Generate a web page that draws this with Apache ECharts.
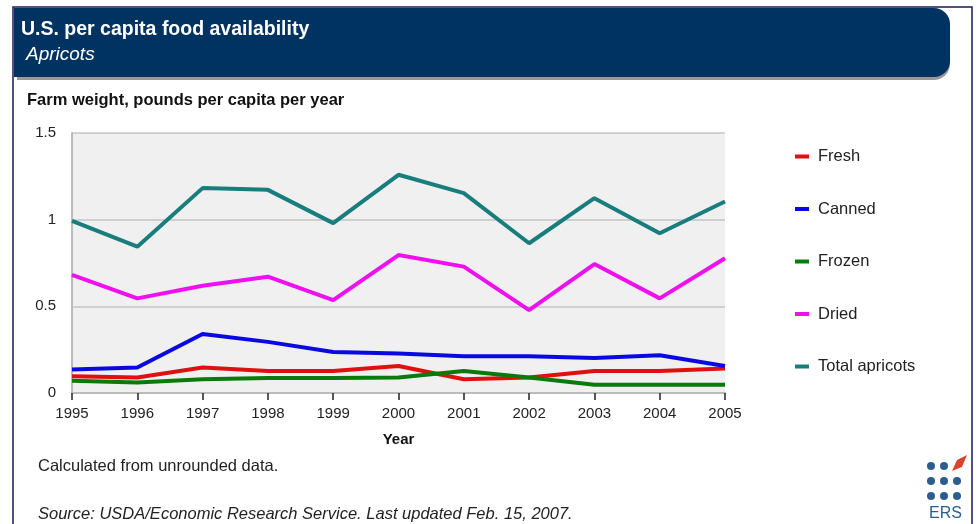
<!DOCTYPE html>
<html><head><meta charset="utf-8">
<script src="https://cdn.jsdelivr.net/npm/echarts@6/dist/echarts.min.js"></script>
<style>html,body{margin:0;padding:0;background:#fff}#c{width:978px;height:524px}</style>
</head><body><div id="c"></div>
<script>
const years = ['1995','1996','1997','1998','1999','2000','2001','2002','2003','2004','2005'];
const fresh  = [0.097,0.089,0.147,0.127,0.127,0.156,0.079,0.089,0.127,0.127,0.141];
const canned = [0.135,0.147,0.340,0.295,0.237,0.228,0.212,0.212,0.202,0.218,0.156];
const frozen = [0.070,0.060,0.079,0.087,0.087,0.089,0.127,0.089,0.048,0.048,0.048];
const dried  = [0.681,0.546,0.619,0.671,0.536,0.796,0.729,0.478,0.744,0.546,0.777];
const total  = [0.993,0.844,1.182,1.172,0.980,1.259,1.153,0.864,1.124,0.922,1.105];
const yTicks = [0, 0.5, 1, 1.5];
const seriesNames = ['Fresh','Canned','Frozen','Dried','Total apricots'];
const seriesColors = ['#e01010','#0a0ae0','#0a7a0a','#ee10ee','#1a7d7d'];
const seriesData = [fresh, canned, frozen, dried, total];

const chart = echarts.init(document.getElementById('c'), null, {renderer:'canvas'});
const FONT = 'Liberation Sans, Arial, sans-serif';
const dots = [];
for (let r=0;r<3;r++) for (let c=0;c<3;c++) {
  if (r===0 && c===2) continue;
  dots.push({type:'circle', shape:{cx:931+c*13, cy:466+r*15, r:4}, style:{fill:'#2d5d8f'}, z:10});
}
chart.setOption({
  animation:false,
  backgroundColor:'#fff',
  textStyle:{fontFamily:FONT},
  grid:{left:72, right:253, top:133, bottom:131, show:true, backgroundColor:'#f0f0f0', borderWidth:0},
  xAxis:{type:'category', data:years, boundaryGap:false,
    name:'Year', nameLocation:'middle', nameGap:39,
    nameTextStyle:{fontFamily:FONT, fontWeight:'bold', fontSize:15, color:'#111'},
    axisLine:{show:true, lineStyle:{color:'#bbbbbb', width:2}},
    axisTick:{show:true, length:7, inside:false, lineStyle:{color:'#222', width:1.5}},
    axisLabel:{fontFamily:FONT, fontSize:15, color:'#222', margin:13},
    splitLine:{show:false}},
  yAxis:{type:'value', min:0, max:1.5, interval:0.5,
    axisLine:{show:true, lineStyle:{color:'#bbbbbb', width:2}},
    axisTick:{show:false},
    axisLabel:{fontFamily:FONT, fontSize:15, color:'#222', margin:16, padding:[4,0,0,0],
      formatter:v=>yTicks.includes(v)?String(v):''},
    splitLine:{show:true, lineStyle:{color:'#c4c4c4', width:1.5}}},
  legend:{orient:'vertical', left:790, top:143, itemWidth:14, itemHeight:4, itemGap:35.5,
    icon:'rect', data:seriesNames,
    textStyle:{fontFamily:FONT, fontSize:16.5, color:'#222', padding:[0,0,0,4], lineHeight:17}},
  series: seriesData.map((d,i)=>({type:'line', name:seriesNames[i], data:d,
    symbol:'none', lineStyle:{width:4, color:seriesColors[i]}, itemStyle:{color:seriesColors[i]}})),
  graphic:[
    {type:'rect', shape:{x:13, y:7, width:959, height:540}, style:{fill:'none', stroke:'#1a1a5a', lineWidth:1.5}, z:-1},
    {type:'rect', shape:{x:17, y:13, width:933, height:67, r:[0,16,16,0]}, style:{fill:'#999'}, z:0, opacity:0.5},
    {type:'rect', shape:{x:14, y:8, width:936, height:69, r:[0,16,16,0]}, style:{fill:'#003262'}, z:1},
    {type:'text', left:21, top:20, style:{text:'U.S. per capita food availability', fill:'#fff', font:'bold 19.5px '+FONT}, z:2},
    {type:'text', left:26, top:45, style:{text:'Apricots', fill:'#fff', font:'italic 19px '+FONT}, z:2},
    {type:'text', left:27, top:92, style:{text:'Farm weight, pounds per capita per year', fill:'#111', font:'bold 16.5px '+FONT}, z:2},
    {type:'text', left:38, top:458, style:{text:'Calculated from unrounded data.', fill:'#222', font:'16.5px '+FONT}, z:2},
    {type:'text', left:38, top:506, style:{text:'Source: USDA/Economic Research Service. Last updated Feb. 15, 2007.', fill:'#222', font:'italic 16.5px '+FONT}, z:2},
    ...dots,
    {type:'polygon', shape:{points:[[952,471],[957,460],[967,455],[962,467]]}, style:{fill:'#d9442e'}, z:10},
    {type:'text', left:929, top:506, style:{text:'ERS', fill:'#2d5d8f', font:'16px '+FONT}, z:10}
  ]
});
</script></body></html>
